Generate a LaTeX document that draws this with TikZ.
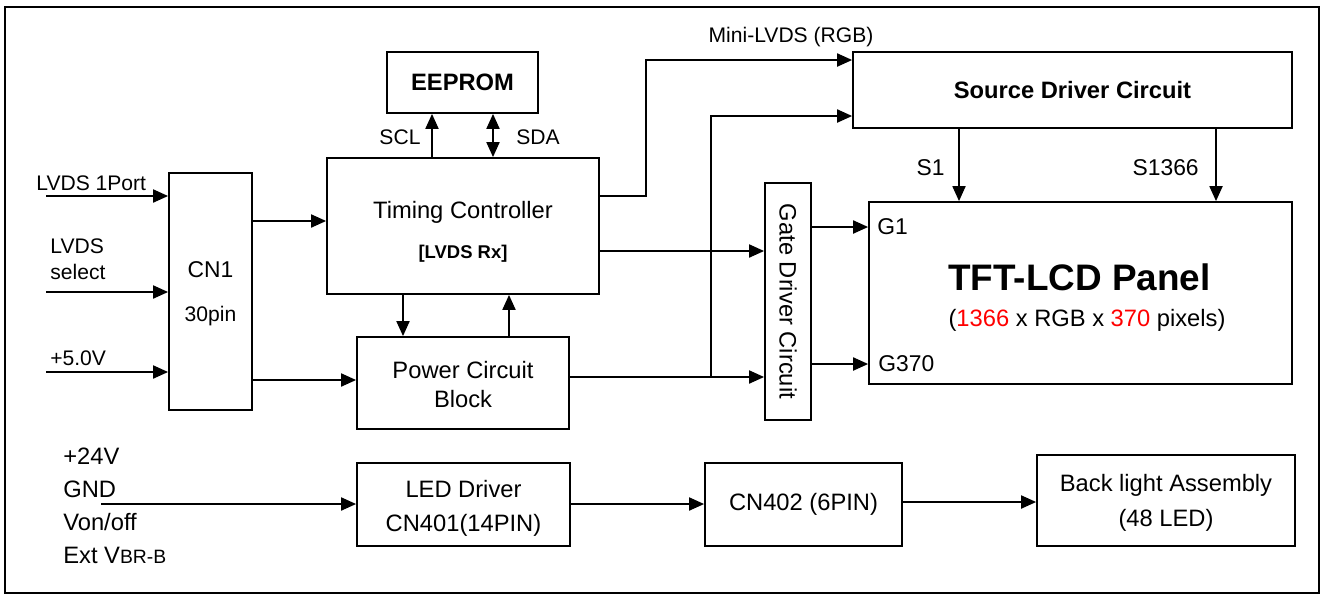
\documentclass[tikz,border=0pt]{standalone}
\usepackage{fontspec}
\setmainfont{Liberation Sans}
\usepackage{graphicx}
\usepackage{xcolor}
\usepackage{tikz}
\usetikzlibrary{positioning, arrows.meta, calc}
\definecolor{pixred}{RGB}{255,0,0}
\newcommand{\bxfont}{\fontsize{13.5}{16.5}\selectfont}
\newcommand{\bxbold}{\fontsize{13.5}{16.5}\selectfont\bfseries}
\newcommand{\sigfont}{\fontsize{12}{14.8}\selectfont}

\begin{document}
\begin{tikzpicture}[x=0.02cm, y=-0.02cm,
    blk/.style={draw, line width=1.1pt, align=center, inner sep=0pt, font=\bxfont},
    ed/.style={-{Triangle[length=8.5pt, width=7.5pt]}, line width=0.75pt},
    bed/.style={{Triangle[length=8.5pt, width=7.5pt]}-{Triangle[length=8.5pt, width=7.5pt]}, line width=0.75pt},
    sig/.style={font=\sigfont, inner sep=0pt, align=left},
    pinl/.style={font=\fontsize{13}{15}\selectfont, inner sep=0pt}
  ]
  % ---------------- frame ----------------
  \useasboundingbox (0,0) rectangle (1324,596);
  \draw[line width=0.9pt] (5,7) rectangle (1319,593);

  % ---------------- blocks ----------------
  \node[blk, minimum width=3.02cm, minimum height=1.22cm, font=\bxbold] (ee) at (462.5,82.5) {EEPROM};
  \node[blk, minimum width=5.44cm, minimum height=2.72cm] (tc) at (463,226)
       {\rule{0pt}{16.5pt}Timing Controller\\[6pt]{\fontsize{10.5}{12}\selectfont\bfseries [LVDS Rx]}};
  \node[blk, minimum width=1.66cm, minimum height=4.74cm, font=\fontsize{13}{16}\selectfont] (cn1) at (210.5,291.5)
       {\rule{0pt}{12pt}CN1\\[9pt]{\sigfont 30pin}};
  \node[blk, minimum width=4.24cm, minimum height=1.84cm] (pw) at (463,383) {\rule{0pt}{12pt}Power Circuit\\Block};
  \node[blk, minimum width=8.78cm, minimum height=1.52cm, font=\bxbold] (sd) at (1072.5,90) {Source Driver Circuit};
  \node[blk, minimum width=0.92cm, minimum height=4.74cm] (gate) at (788,301.5) {\rotatebox{-90}{Gate Driver Circuit}};
  \node[blk, minimum width=8.46cm, minimum height=3.64cm] (lcd) at (1080.5,293) {};
  \node[font=\fontsize{21}{24}\selectfont\bfseries] (lcdname) at (1079.5,277) {TFT-LCD Panel};
  \node[font=\bxfont] (lcdres) at (1087,320)
       {(\textcolor{pixred}{1366} x RGB x \textcolor{pixred}{370} pixels)};
  \node[blk, minimum width=4.26cm, minimum height=1.66cm, font=\fontsize{13.5}{19.3}\selectfont] (led) at (463.5,504.5)
       {\rule{0pt}{14.5pt}LED Driver\\CN401(14PIN)};
  \node[blk, minimum width=3.94cm, minimum height=1.66cm] (cn402) at (803.5,504.5) {CN402 (6PIN)};
  \node[blk, minimum width=5.16cm, minimum height=1.82cm, font=\fontsize{13.5}{20}\selectfont] (bl) at (1166,500.5)
       {\rule{0pt}{12pt}Back light Assembly\\(48 LED)};

  % ---------------- inputs ----------------
  \node[sig, anchor=west] (lvport) at (36,183) {LVDS 1Port};
  \node[sig, anchor=west] (lvsel) at (50,259) {LVDS\\select};
  \node[sig, anchor=west] (vin) at (50,358) {+5.0V};
  \node[sig, anchor=west, font=\fontsize{13.5}{18.8}\selectfont] (blsig) at (63,506)
       {+24V\\GND\\Von/off\\Ext V{\fontsize{11}{13}\selectfont BR-B}};
  \coordinate (lvin) at (46,196);
  \coordinate (selin) at (46,292);
  \coordinate (pwrin) at (46,372);
  \coordinate (blin) at (101,504);
  \draw[ed] (lvin) -- (lvin -| cn1.west);
  \draw[ed] (selin) -- (selin -| cn1.west);
  \draw[ed] (pwrin) -- (pwrin -| cn1.west);
  \draw[ed] (blin) -- (blin -| led.west);

  % ---------------- connections ----------------
  \draw[ed] (cn1.east |- 0,221) -- (tc.west |- 0,221);
  \draw[ed] (cn1.east |- 0,380) -- (pw.west |- 0,380);
  \draw[ed] (tc.south -| 403,0) -- (pw.north -| 403,0);
  \draw[ed] (pw.north -| 509,0) -- (tc.south -| 509,0);
  \draw[ed] (tc.north -| 432,0) -- (ee.south -| 432,0);
  \draw[bed] (tc.north -| 493,0) -- (ee.south -| 493,0);
  \node[sig] (scl) at (400,137) {SCL};
  \node[sig] (sda) at (538,137) {SDA};

  \draw[ed] (tc.east |- 0,196) -| (646,60) -- (sd.west |- 0,60);
  \node[sig] (mlvds) at (791,37) {Mini-LVDS (RGB)};
  \draw[ed] (tc.east |- 0,251) -- (gate.west |- 0,251);
  \coordinate (pwbr) at (711,377);
  \draw[ed] (pw.east |- 0,377) -- (gate.west |- 0,377);
  \draw[ed] (pwbr) |- (sd.west |- 0,116);

  \draw[ed] (sd.south -| 959,0) -- (lcd.north -| 959,0);
  \draw[ed] (sd.south -| 1216,0) -- (lcd.north -| 1216,0);
  \node[pinl, anchor=east] (s1) at (945,168) {S1};
  \node[pinl, anchor=east] (s1366) at (1199,168) {S1366};
  \draw[ed] (gate.east |- 0,227) -- (lcd.west |- 0,227);
  \draw[ed] (gate.east |- 0,364) -- (lcd.west |- 0,364);
  \node[pinl, anchor=west] (g1) at (877,227) {G1};
  \node[pinl, anchor=west] (g370) at (878,364) {G370};

  \draw[ed] (led.east |- 0,504) -- (cn402.west |- 0,504);
  \draw[ed] (cn402.east |- 0,502) -- (bl.west |- 0,502);
\end{tikzpicture}
\end{document}
